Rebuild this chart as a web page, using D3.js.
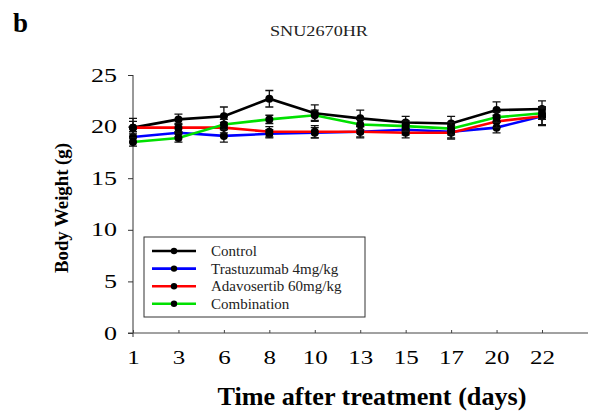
<!DOCTYPE html>
<html>
<head>
<meta charset="utf-8">
<script src="https://cdn.jsdelivr.net/npm/d3@7"></script>
<style>
  body { margin: 0; background: #fff; }
  text { font-family: "Liberation Serif", "Times New Roman", serif; }
</style>
</head>
<body>
<div class="container"></div>
<script>
  // chart data
  var days = ["1", "3", "6", "8", "10", "13", "15", "17", "20", "22"];
  var yTicks = [0, 5, 10, 15, 20, 25];
  var seriesNames = ["Control", "Trastuzumab 4mg/kg", "Adavosertib 60mg/kg", "Combination"];
  var seriesColors = ["#000000", "#0000ff", "#ff0000", "#00e000"];
  var control = [19.9, 20.7, 21.0, 22.7, 21.3, 20.8, 20.4, 20.3, 21.6, 21.7];
  var controlErr = [0.9, 0.5, 0.9, 0.8, 0.8, 0.8, 0.6, 0.7, 0.8, 0.8];
  var trastuzumab = [19.0, 19.4, 19.1, 19.3, 19.4, 19.5, 19.7, 19.5, 19.9, 21.0];
  var trastuzumabErr = [0.5, 0.4, 0.6, 0.4, 0.5, 0.5, 0.5, 0.6, 0.5, 0.9];
  var adavosertib = [19.9, 19.9, 19.9, 19.5, 19.5, 19.5, 19.4, 19.4, 20.5, 21.0];
  var adavosertibErr = [0.6, 0.4, 0.5, 0.5, 0.6, 0.6, 0.5, 0.6, 0.6, 0.8];
  var combination = [18.5, 18.9, 20.2, 20.7, 21.1, 20.2, 20.05, 19.8, 20.9, 21.3];
  var combinationErr = [0.4, 0.4, 0.5, 0.4, 0.5, 0.5, 0.5, 0.6, 0.5, 0.6];

  var allSeries = [control, trastuzumab, adavosertib, combination];
  var allErr = [controlErr, trastuzumabErr, adavosertibErr, combinationErr];

  var w = 590;
  var h = 420;
  var svg = d3.select(".container").append("svg").attr("width", w).attr("height", h);

  var x = d3.scalePoint().domain(days).range([133, 542]);
  var y = d3.scaleLinear().domain([0, 25]).range([333, 75]);

  // stretch text a bit wider, like the scanned figure
  function stretch(sel, perChar){
    sel.attr("textLength", function(d){ return String(d).length * perChar; })
      .attr("lengthAdjust", "spacingAndGlyphs");
  }

  // panel letter + title
  svg.append("text").attr("x", 13).attr("y", 32)
    .style("font-size", "27px").style("font-weight", "bold").text("b");
  svg.append("text").attr("x", 319).attr("y", 36).attr("text-anchor", "middle")
    .style("font-size", "15px").attr("fill", "#222")
    .attr("textLength", 98).attr("lengthAdjust", "spacingAndGlyphs").text("SNU2670HR");

  // y axis
  var yAxis = svg.append("g").attr("transform", "translate(133,0)")
    .call(d3.axisLeft(y).tickValues(yTicks).tickSize(5).tickPadding(11));
  yAxis.select(".domain").attr("d", "M0," + y(25) + "V" + (y(0) + 4));
  yAxis.selectAll("text").style("font-size", "19px").style("font-family", "Liberation Serif, serif").call(stretch, 13);
  yAxis.selectAll("line, path").attr("stroke", "#333");

  // x axis
  var xAxis = svg.append("g").attr("transform", "translate(0," + y(0) + ")")
    .call(d3.axisBottom(x).tickSize(3).tickPadding(15));
  xAxis.select(".domain").attr("d", "M128,0H588");
  xAxis.selectAll("text").style("font-size", "19px").style("font-family", "Liberation Serif, serif").call(stretch, 12.5);
  xAxis.selectAll("line").attr("y1", -3).attr("y2", 0);
  xAxis.selectAll("line, path").attr("stroke", "#444");

  // axis titles
  svg.append("text").attr("transform", "translate(68,208) rotate(-90)")
    .attr("text-anchor", "middle").style("font-size", "18px").style("font-weight", "bold")
    .attr("textLength", 130).attr("lengthAdjust", "spacingAndGlyphs")
    .text("Body Weight (g)");
  svg.append("text").attr("x", 372).attr("y", 405).attr("text-anchor", "middle")
    .style("font-size", "25px").style("font-weight", "bold")
    .attr("textLength", 309).attr("lengthAdjust", "spacingAndGlyphs")
    .text("Time after treatment (days)");

  var line = d3.line().x(function(d, i){ return x(days[i]); }).y(function(d){ return y(d); });

  // series
  allSeries.forEach(function(vals, s){
    var g = svg.append("g");
    var errs = allErr[s];
    g.selectAll(".err").data(vals).enter().append("path")
      .attr("d", function(d, i){
        var cx = x(days[i]), t = y(d + errs[i]), b = y(d - errs[i]);
        return "M" + (cx - 4) + "," + t + "H" + (cx + 4) + "M" + cx + "," + t + "V" + b +
          "M" + (cx - 4) + "," + b + "H" + (cx + 4);
      })
      .attr("stroke", "#111").attr("stroke-width", 1.3).attr("fill", "none");
    g.append("path").datum(vals).attr("d", line)
      .attr("fill", "none").attr("stroke", seriesColors[s]).attr("stroke-width", 2.6);
    g.selectAll("circle").data(vals).enter().append("circle")
      .attr("cx", function(d, i){ return x(days[i]); })
      .attr("cy", function(d){ return y(d); })
      .attr("r", 4).attr("fill", "#000");
  });

  // legend
  var legend = svg.append("g");
  legend.append("rect").attr("x", 144).attr("y", 237).attr("width", 221).attr("height", 80)
    .attr("fill", "#fff").attr("stroke", "#333").attr("stroke-width", 1);
  seriesNames.forEach(function(name, i){
    var ly = 251 + i * 17.6;
    legend.append("line").attr("x1", 152).attr("x2", 196).attr("y1", ly).attr("y2", ly)
      .attr("stroke", seriesColors[i]).attr("stroke-width", 2.6);
    legend.append("circle").attr("cx", 174).attr("cy", ly).attr("r", 3.2).attr("fill", "#000");
    legend.append("text").attr("x", 211).attr("y", ly + 5).style("font-size", "15px")
      .attr("fill", "#222").text(name);
  });
</script>
</body>
</html>
